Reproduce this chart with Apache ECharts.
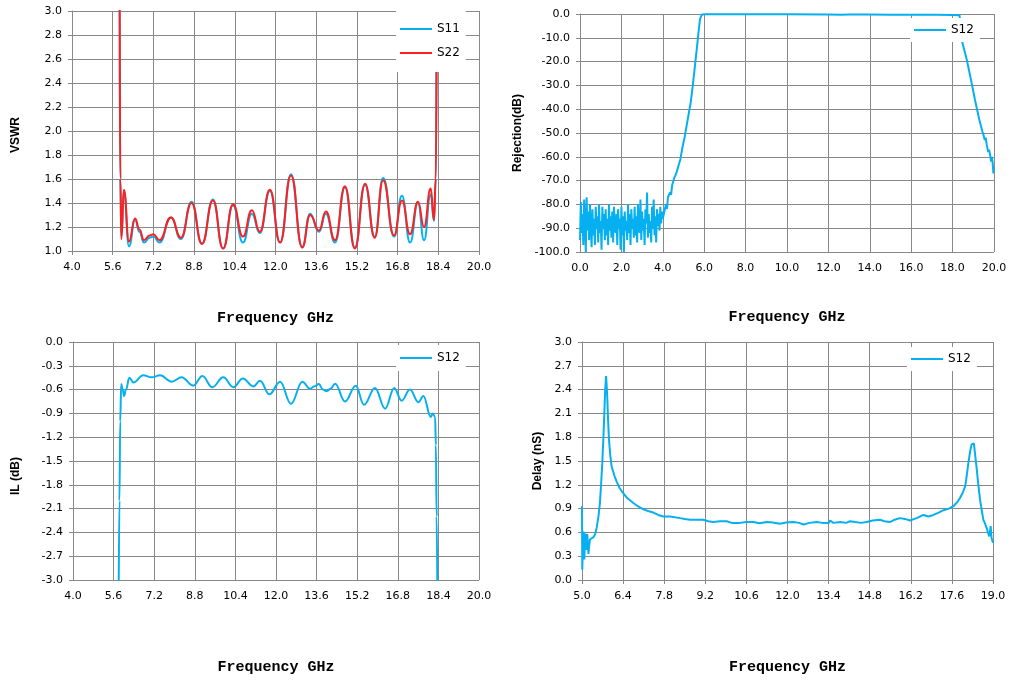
<!DOCTYPE html>
<html>
<head>
<meta charset="utf-8">
<title>Filter S-parameters</title>
<script src="https://cdn.jsdelivr.net/npm/echarts@6/dist/echarts.min.js"></script>
<style>
  html, body { margin: 0; padding: 0; background: #fff; }
  #chart { width: 1020px; height: 683px; }
</style>
</head>
<body>
<div id="chart"></div>
<script>
// tick labels
const freqTicks = [4.0, 5.6, 7.2, 8.8, 10.4, 12.0, 13.6, 15.2, 16.8, 18.4, 20.0];
const delayTicks = [5.0, 6.4, 7.8, 9.2, 10.6, 12.0, 13.4, 14.8, 16.2, 17.6, 19.0];

// VSWR  [GHz, VSWR]
const vswrS11 = [
  [5.84, 6.0], [5.86, 3.5], [5.9, 1.6], [5.94, 1.12], [6.04, 1.50], [6.24, 1.04],
  [6.48, 1.26], [6.65, 1.16], [6.83, 1.07], [7.05, 1.11], [7.2, 1.12], [7.44, 1.07],
  [7.89, 1.28], [8.28, 1.10], [8.7, 1.41], [9.11, 1.06], [9.54, 1.43], [9.94, 1.02],
  [10.33, 1.38], [10.72, 1.07], [11.07, 1.31], [11.38, 1.15], [11.78, 1.50], [12.18, 1.07],
  [12.61, 1.64], [13.05, 1.03], [13.36, 1.31], [13.71, 1.16], [13.98, 1.31], [14.34, 1.07],
  [14.73, 1.53], [15.12, 1.03], [15.52, 1.55], [15.9, 1.12], [16.23, 1.61], [16.66, 1.12],
  [16.97, 1.46], [17.29, 1.07], [17.6, 1.40], [17.84, 1.09], [18.1, 1.47], [18.23, 1.25],
  [18.3, 1.6], [18.36, 3.5], [18.4, 6.0]
];
const vswrS22 = [
  [5.84, 6.0], [5.86, 3.5], [5.9, 1.6], [5.94, 1.10], [6.04, 1.51], [6.24, 1.08],
  [6.48, 1.27], [6.65, 1.18], [6.83, 1.09], [7.05, 1.13], [7.2, 1.14], [7.44, 1.09],
  [7.89, 1.28], [8.28, 1.11], [8.7, 1.40], [9.11, 1.06], [9.54, 1.42], [9.94, 1.02],
  [10.33, 1.39], [10.72, 1.12], [11.07, 1.34], [11.38, 1.16], [11.78, 1.51], [12.18, 1.07],
  [12.61, 1.63], [13.05, 1.03], [13.36, 1.30], [13.71, 1.17], [13.98, 1.33], [14.34, 1.09],
  [14.73, 1.54], [15.12, 1.02], [15.52, 1.56], [15.9, 1.11], [16.23, 1.59], [16.66, 1.13],
  [16.97, 1.42], [17.29, 1.14], [17.6, 1.41], [17.84, 1.20], [18.1, 1.52], [18.23, 1.26],
  [18.3, 1.6], [18.36, 3.5], [18.4, 6.0]
];

// Rejection  [GHz, dB]
const rejS12 = [
  [0.00, -95], [0.04, -79], [0.08, -92], [0.12, -84], [0.16, -97], [0.20, -78], [0.24, -88],
  [0.28, -100], [0.32, -77], [0.36, -91], [0.40, -83], [0.44, -95], [0.48, -80], [0.52, -89],
  [0.56, -98], [0.60, -82], [0.64, -93], [0.68, -86], [0.72, -97], [0.76, -81], [0.80, -90],
  [0.84, -85], [0.88, -96], [0.92, -80], [0.96, -92], [1.00, -87], [1.04, -99], [1.08, -81],
  [1.12, -90], [1.16, -84], [1.20, -95], [1.24, -82], [1.28, -93], [1.32, -86], [1.36, -97],
  [1.40, -80], [1.44, -91], [1.48, -85], [1.52, -94], [1.56, -83], [1.60, -96], [1.64, -81],
  [1.68, -89], [1.72, -92], [1.76, -84], [1.80, -97], [1.84, -82], [1.88, -90], [1.92, -86],
  [1.96, -99], [2.00, -81], [2.04, -93], [2.08, -85], [2.12, -100], [2.16, -83], [2.20, -91],
  [2.24, -87], [2.28, -95], [2.32, -80], [2.36, -92], [2.40, -84], [2.44, -97], [2.48, -82],
  [2.52, -90], [2.56, -86], [2.60, -94], [2.64, -81], [2.68, -93], [2.72, -85], [2.76, -96],
  [2.80, -80], [2.84, -89], [2.88, -92], [2.92, -78], [2.96, -95], [3.00, -83], [3.04, -91],
  [3.08, -86], [3.12, -97], [3.16, -82], [3.20, -88], [3.24, -75], [3.28, -94], [3.32, -84],
  [3.36, -92], [3.40, -87], [3.44, -96], [3.48, -81], [3.52, -90], [3.56, -78], [3.60, -93],
  [3.64, -85], [3.68, -96], [3.72, -82], [3.76, -89], [3.80, -84], [3.84, -91], [3.88, -81],
  [3.92, -88], [3.96, -83], [4.00, -86],
  [4.05, -84], [4.15, -80], [4.2, -82], [4.25, -77], [4.35, -75], [4.4, -76], [4.45, -72],
  [4.55, -69], [4.65, -67], [4.75, -64], [4.85, -61], [4.95, -56], [5.05, -52], [5.15, -47],
  [5.25, -42], [5.35, -37], [5.45, -30], [5.55, -22], [5.65, -14], [5.72, -8], [5.8, -2],
  [5.88, -0.3], [6.0, -0.1], [8.0, -0.1], [10.0, -0.15], [12.0, -0.2], [12.6, -0.35],
  [13.0, -0.2], [14.0, -0.25], [15.0, -0.3], [15.6, -0.35], [16.4, -0.3], [17.2, -0.35],
  [18.0, -0.4], [18.33, -0.5], [18.4, -5], [18.47, -12], [18.68, -19], [18.89, -27.7],
  [19.08, -36], [19.28, -44], [19.44, -49.4], [19.5, -51], [19.55, -53], [19.6, -52],
  [19.65, -55], [19.72, -58], [19.76, -57], [19.81, -59], [19.86, -62], [19.9, -60],
  [19.94, -63], [19.97, -67]
];

// Insertion loss  [GHz, dB]
const ilS12 = [
  [5.80, -3.2], [5.83, -2.0], [5.86, -1.0], [5.9, -0.53], [5.96, -0.6], [6.01, -0.68],
  [6.09, -0.6], [6.22, -0.45], [6.38, -0.51], [6.77, -0.42], [7.10, -0.445], [7.43, -0.42],
  [7.89, -0.5], [8.28, -0.445], [8.74, -0.55], [9.10, -0.43], [9.49, -0.57], [9.92, -0.445],
  [10.32, -0.57], [10.69, -0.46], [11.11, -0.56], [11.37, -0.49], [11.74, -0.66], [12.16, -0.5],
  [12.59, -0.78], [13.04, -0.5], [13.34, -0.59], [13.5, -0.56], [13.69, -0.53], [13.85, -0.6],
  [14.0, -0.62], [14.15, -0.59], [14.33, -0.525], [14.72, -0.75], [15.14, -0.55], [15.47, -0.79],
  [15.9, -0.58], [16.3, -0.84], [16.66, -0.58], [16.95, -0.74], [17.28, -0.6], [17.61, -0.76],
  [17.81, -0.68], [18.10, -0.945], [18.17, -0.9], [18.27, -0.945], [18.3, -1.3], [18.33, -2.2],
  [18.36, -3.2]
];

// Group delay  [GHz, nS]
const delayS12 = [
  [5.0, 0.93], [5.005, 0.5], [5.01, 0.13], [5.03, 0.45], [5.045, 0.61], [5.06, 0.3], [5.08, 0.26],
  [5.1, 0.55], [5.11, 0.59], [5.13, 0.42], [5.15, 0.38], [5.18, 0.58], [5.2, 0.45], [5.22, 0.33],
  [5.25, 0.45], [5.27, 0.51], [5.32, 0.5], [5.39, 0.54], [5.45, 0.58], [5.5, 0.66], [5.56, 0.8],
  [5.61, 0.97], [5.65, 1.2], [5.69, 1.47], [5.73, 1.8], [5.76, 2.1], [5.79, 2.4], [5.82, 2.57],
  [5.84, 2.45], [5.86, 2.31], [5.89, 2.0], [5.92, 1.77], [5.96, 1.58], [6.01, 1.43], [6.1, 1.32],
  [6.18, 1.24], [6.28, 1.16], [6.39, 1.1], [6.55, 1.03], [6.75, 0.97], [6.9, 0.93], [7.09, 0.89],
  [7.25, 0.87], [7.43, 0.85], [7.6, 0.82], [7.77, 0.80], [8.0, 0.8], [8.34, 0.78], [8.5, 0.77],
  [8.68, 0.76], [8.9, 0.76], [9.13, 0.76], [9.3, 0.74], [9.47, 0.73], [9.7, 0.74], [9.93, 0.74],
  [10.1, 0.72], [10.38, 0.72], [10.6, 0.73], [10.84, 0.73], [11.05, 0.715], [11.29, 0.73],
  [11.5, 0.725], [11.74, 0.71], [11.95, 0.725], [12.2, 0.73], [12.4, 0.72], [12.54, 0.70],
  [12.75, 0.72], [12.99, 0.73], [13.2, 0.72], [13.4, 0.72], [13.45, 0.75], [13.56, 0.72],
  [13.8, 0.73], [14.0, 0.72], [14.13, 0.74], [14.3, 0.73], [14.5, 0.72], [14.7, 0.73],
  [14.9, 0.75], [15.15, 0.76], [15.3, 0.74], [15.49, 0.73], [15.65, 0.76], [15.83, 0.78],
  [16.0, 0.77], [16.17, 0.75], [16.4, 0.78], [16.63, 0.82], [16.8, 0.80], [16.97, 0.82],
  [17.15, 0.85], [17.31, 0.88], [17.5, 0.9], [17.65, 0.93], [17.78, 0.98], [17.87, 1.03],
  [17.97, 1.1], [18.05, 1.18], [18.1, 1.3], [18.16, 1.47], [18.22, 1.62], [18.27, 1.71],
  [18.3, 1.73], [18.35, 1.72], [18.4, 1.55], [18.44, 1.42], [18.5, 1.2], [18.56, 1.01],
  [18.62, 0.87], [18.67, 0.76], [18.72, 0.72], [18.78, 0.66], [18.83, 0.6], [18.87, 0.55],
  [18.9, 0.62], [18.92, 0.68], [18.94, 0.58], [18.95, 0.53], [18.98, 0.55], [19.0, 0.47]
];

const BLUE = '#06b0f0';
const RED = '#ff1f1f';
const GRID_LINE = '#888888';
const TICK_FONT = 'DejaVu Sans';

const chart = echarts.init(document.getElementById('chart'), null, { renderer: 'canvas' });

function fmt1(v) {
  return Number(v).toFixed(1);
}

// frequency axis; when custom tick values are used, the vertical grid lines
// come from a hidden helper axis (see gridLineAxis)
function xAxisFor(gridIndex, min, max, opts) {
  const axis = {
    type: 'value',
    gridIndex: gridIndex,
    position: 'bottom',
    min: min,
    max: max,
    name: 'Frequency GHz',
    nameLocation: 'middle',
    nameGap: opts.nameGap,
    nameTextStyle: { fontFamily: 'Liberation Mono', fontWeight: 'bold', fontSize: 15, color: '#000' },
    axisLine: { show: true, lineStyle: { color: GRID_LINE } },
    axisTick: { show: true, length: 4, lineStyle: { color: GRID_LINE } },
    axisLabel: { margin: 11, fontFamily: TICK_FONT, fontSize: 11, color: '#000', formatter: fmt1 },
    splitLine: { show: !opts.ticks, lineStyle: { color: GRID_LINE, width: 1 } }
  };
  if (opts.ticks) {
    axis.axisLabel.customValues = opts.ticks;
    axis.axisTick.customValues = opts.ticks;
  } else {
    axis.interval = opts.interval;
  }
  return axis;
}

function gridLineAxis(gridIndex, divisions) {
  return {
    type: 'value',
    gridIndex: gridIndex,
    position: 'top',
    min: 0,
    max: divisions,
    interval: 1,
    axisLine: { show: false },
    axisTick: { show: false },
    axisLabel: { show: false },
    splitLine: { show: true, lineStyle: { color: GRID_LINE, width: 1 } }
  };
}

function yAxisFor(gridIndex, min, max, interval, name, nameGap, shift) {
  return {
    type: 'value',
    gridIndex: gridIndex,
    min: min,
    max: max,
    interval: interval,
    name: name,
    nameLocation: 'middle',
    nameGap: nameGap,
    nameTextStyle: {
      fontFamily: 'Liberation Sans', fontWeight: 'bold', fontSize: 12, color: '#000',
      padding: [0, shift || 0, 0, 0]
    },
    axisLine: { show: true, lineStyle: { color: GRID_LINE } },
    axisTick: { show: true, length: 4, lineStyle: { color: GRID_LINE } },
    axisLabel: { margin: 10, fontFamily: TICK_FONT, fontSize: 11, color: '#000', formatter: fmt1 },
    splitLine: { show: true, lineStyle: { color: GRID_LINE, width: 1 } }
  };
}

function legendFor(names, left, top, padding) {
  return {
    data: names,
    orient: 'vertical',
    left: left,
    top: top,
    icon: 'rect',
    itemWidth: 32,
    itemHeight: 2,
    itemGap: 10,
    padding: padding,
    backgroundColor: '#fff',
    selectedMode: false,
    textStyle: { fontFamily: TICK_FONT, fontSize: 12, color: '#000', lineHeight: 14 },
    z: 10
  };
}

function lineSeries(name, data, xi, color, smooth) {
  return {
    type: 'line',
    name: name,
    xAxisIndex: xi,
    yAxisIndex: xi,
    data: data,
    symbol: 'none',
    smooth: smooth,
    smoothMonotone: smooth ? 'x' : undefined,
    clip: true,
    lineStyle: { color: color, width: 2 },
    itemStyle: { color: color },
    animation: false
  };
}

const option = {
  backgroundColor: '#fff',
  animation: false,
  grid: [
    { left: 72, top: 11, width: 407, height: 240 },
    { left: 580, top: 14, width: 414, height: 238 },
    { left: 73, top: 342, width: 406, height: 238 },
    { left: 582, top: 342, width: 411, height: 238 }
  ],
  xAxis: [
    xAxisFor(0, 4, 20, { ticks: freqTicks, nameGap: 60 }),
    xAxisFor(1, 0, 20, { interval: 2, nameGap: 58 }),
    xAxisFor(2, 4, 20, { ticks: freqTicks, nameGap: 80 }),
    xAxisFor(3, 5, 19, { ticks: delayTicks, nameGap: 80 }),
    gridLineAxis(0, freqTicks.length - 1),
    gridLineAxis(2, freqTicks.length - 1),
    gridLineAxis(3, delayTicks.length - 1)
  ],
  yAxis: [
    yAxisFor(0, 1, 3, 0.2, 'VSWR', 50, 8),
    yAxisFor(1, -100, 0, 10, 'Rejection(dB)', 56, 0),
    yAxisFor(2, -3, 0, 0.3, 'IL (dB)', 51, 30),
    yAxisFor(3, 0, 3, 0.3, 'Delay (nS)', 38, 0)
  ],
  legend: [
    legendFor(['S11', 'S22'], 396, 10, [12, 6, 12, 4]),
    legendFor(['S12'], 910, 18, [5, 6, 5, 4]),
    legendFor(['S12'], 396, 345, [6, 6, 6, 4]),
    legendFor(['S12'], 907, 347, [5, 6, 5, 4])
  ],
  series: [
    lineSeries('S11', vswrS11, 0, BLUE, 0.5),
    lineSeries('S22', vswrS22, 0, RED, 0.5),
    lineSeries('S12', rejS12, 1, BLUE, false),
    lineSeries('S12', ilS12, 2, BLUE, 0.4),
    lineSeries('S12', delayS12, 3, BLUE, false)
  ]
};

chart.setOption(option);
</script>
</body>
</html>
